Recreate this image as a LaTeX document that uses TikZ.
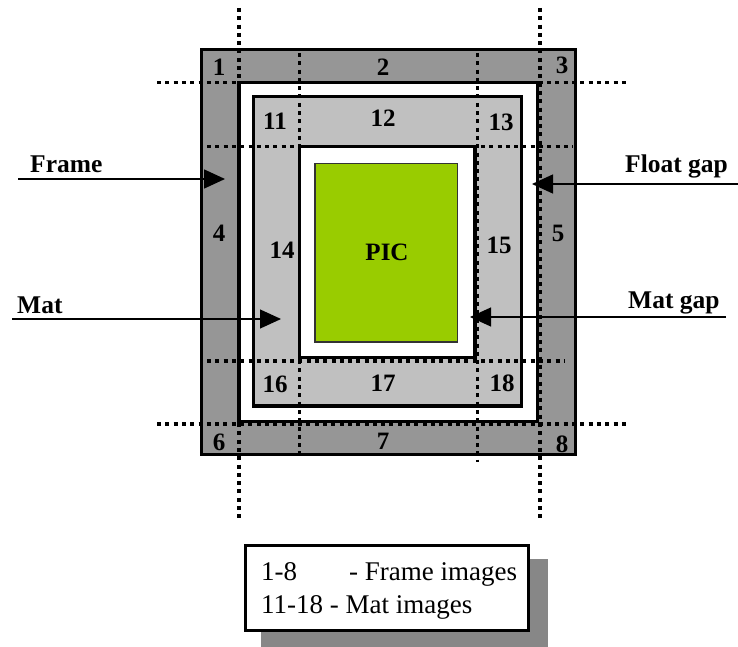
\documentclass[tikz,border=0pt]{standalone}
\usepackage{fontspec}
\setmainfont{Liberation Serif}
\usetikzlibrary{arrows.meta}
\definecolor{framegray}{RGB}{150,150,150}
\definecolor{matgray}{RGB}{192,192,192}
\definecolor{picgreen}{RGB}{153,204,0}
\definecolor{shadowgray}{RGB}{135,135,135}
\begin{document}
\begin{tikzpicture}[x=1pt,y=-1pt,
 border/.style={draw=black,line width=3.3pt},
 dotline/.style={line width=3.6pt,dash pattern=on 4pt off 4.3pt},
 num/.style={font=\fontsize{25}{25}\selectfont\bfseries,inner sep=0pt},
 lbl/.style={font=\fontsize{25.5}{25.5}\selectfont\bfseries,inner sep=0pt,anchor=base west},
 arr/.style={-{Triangle[length=21pt,width=19pt]}},
 legtext/.style={font=\fontsize{27}{27}\selectfont,inner sep=0pt,anchor=base west}]
\useasboundingbox (0,0) rectangle (738,647);
% rectangles
\filldraw[border,fill=framegray] (201.5,49.5) rectangle (575.5,454.7);
\filldraw[border,fill=white] (239,82.7) rectangle (537.7,421.7);
\filldraw[border,fill=matgray] (253.3,96.3) rectangle (521.7,406);
\filldraw[border,fill=white] (299.3,146.3) rectangle (475,357.7);
\filldraw[draw=black!80,line width=1.5pt,fill=picgreen] (315,163.5) rectangle (457.5,341.8);
% dotted lines
\draw[dotline] (239,8) -- (239,520);
\draw[dotline] (540,8) -- (540,520);
\draw[dotline] (299.3,53) -- (299.3,458);
\draw[dotline] (477.5,53) -- (477.5,462);
\draw[dotline] (157,82.7) -- (630,82.7);
\draw[dotline] (207,146.5) -- (573,146.5);
\draw[dotline] (207,361) -- (565,361);
\draw[dotline] (157,424) -- (630,424);
% numbers
\node[num] (n1) at (219,67) {1};
\node[num] (n2) at (383,67) {2};
\node[num] (n3) at (562,65) {3};
\node[num] (n4) at (219,233) {4};
\node[num] (n5) at (558,233) {5};
\node[num] (n6) at (219,442) {6};
\node[num] (n7) at (383,441) {7};
\node[num] (n8) at (562,444) {8};
\node[num] (n11) at (275,121) {11};
\node[num] (n12) at (383,118) {12};
\node[num] (n13) at (501,122) {13};
\node[num] (n14) at (282,250) {14};
\node[num] (n15) at (499,245) {15};
\node[num] (n16) at (275,384) {16};
\node[num] (n17) at (383,383) {17};
\node[num] (n18) at (502,383) {18};
\node[num] (pic) at (387,252) {PIC};
% side labels
\node[lbl] (lframe) at (30,173) {Frame};
\node[lbl] (lmat) at (17,313) {Mat};
\node[lbl] (lfloat) at (625,173) {Float gap};
\node[lbl] (lmatgap) at (628,308) {Mat gap};
% arrows
\coordinate (frameS) at (18,179);
\coordinate (frameT) at (225,179);
\coordinate (matS) at (12,319);
\coordinate (matT) at (281,319);
\coordinate (floatS) at (738,184);
\coordinate (floatT) at (532,184);
\coordinate (matgapS) at (726,317);
\coordinate (matgapT) at (470,317);
\draw[arr,line width=1.5pt] (frameS) -- (frameT);
\draw[arr,line width=1.1pt] (matS) -- (matT);
\draw[arr,line width=1.5pt] (floatS) -- (floatT);
\draw[arr,line width=1.1pt] (matgapS) -- (matgapT);
% legend
\fill[shadowgray] (260.7,559.3) rectangle (548.3,647);
\filldraw[draw=black,line width=2.5pt,fill=white] (245.3,545.3) rectangle (528.7,630.7);
\node[legtext] (leg1a) at (261,580) {1-8};
\node[legtext] (leg1b) at (349,580) {- Frame images};
\node[legtext] (leg2) at (261,613) {11-18 - Mat images};
\end{tikzpicture}
\end{document}
